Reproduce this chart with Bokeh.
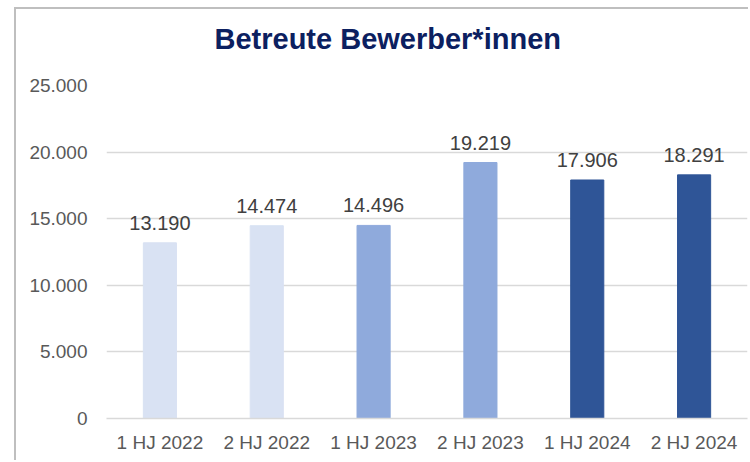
from bokeh.plotting import figure
from bokeh.models import ColumnDataSource, LabelSet, Range1d, FixedTicker, CustomJSTickFormatter, Title
from bokeh.core.properties import value
from bokeh.embed import file_html
from bokeh.resources import INLINE

categories = ["1 HJ 2022", "2 HJ 2022", "1 HJ 2023", "2 HJ 2023", "1 HJ 2024", "2 HJ 2024"]
values = [13190, 14474, 14496, 19219, 17906, 18291]
bar_colors = ["#D9E2F3", "#D9E2F3", "#8FAADC", "#8FAADC", "#2F5597", "#2F5597"]
y_ticks = [0, 5000, 10000, 15000, 20000, 25000]
title_text = "Betreute Bewerber*innen"

labels = [f"{v:,}".replace(",", ".") for v in values]
src = ColumnDataSource(dict(x=categories, top=values, color=bar_colors, label=labels))

p = figure(x_range=categories, y_range=Range1d(0, 25000), width=734, height=453,
           output_backend="svg", toolbar_location=None,
           min_border_left=90, min_border_right=3, min_border_top=76, min_border_bottom=44)
p.margin = (7, 0, 0, 14)
p.styles = {"border-left": "2px solid #BFBFBF", "border-top": "2px solid #BFBFBF"}
p.outline_line_color = None
p.background_fill_color = "white"
p.border_fill_color = "white"

p.title.text = title_text
p.title.align = "left"
p.title.offset = 108
p.title.vertical_align = "top"
p.title.standoff = 26
p.title.text_font = "Liberation Sans"
p.title.text_font_style = "bold"
p.title.text_font_size = "29px"
p.title.text_color = "#0C2060"

# empty spacer between title and plot area
p.add_layout(Title(text=" ", text_font_size="1px", standoff=13), "above")

p.vbar(x="x", top="top", width=0.31, color="color", source=src)

p.add_layout(LabelSet(x="x", y="top", text="label", source=src, y_offset=13,
                      text_align="center", text_baseline="alphabetic",
                      text_font=value("Liberation Sans"), text_font_size=value("20px"),
                      text_color="#404040"))

p.yaxis.ticker = FixedTicker(ticks=y_ticks)
p.yaxis.formatter = CustomJSTickFormatter(code="return tick.toFixed(0).replace(/\\B(?=(\\d{3})+(?!\\d))/g, '.');")
for ax in (p.xaxis, p.yaxis):
    ax.major_tick_line_color = None
    ax.minor_tick_line_color = None
    ax.major_label_text_font = "Liberation Sans"
    ax.major_label_text_font_size = "19px"
    ax.major_label_text_color = "#595959"
p.yaxis.axis_line_color = None
p.yaxis.major_label_standoff = 13
p.xaxis.axis_line_color = "#D9D9D9"
p.xaxis.axis_line_width = 1.5
p.xaxis.major_label_standoff = 7

p.xgrid.grid_line_color = None
p.ygrid.ticker = FixedTicker(ticks=y_ticks)
p.ygrid.grid_line_color = "#D9D9D9"
p.ygrid.grid_line_width = 1.3

open("out.html", "w").write(file_html(p, INLINE))
